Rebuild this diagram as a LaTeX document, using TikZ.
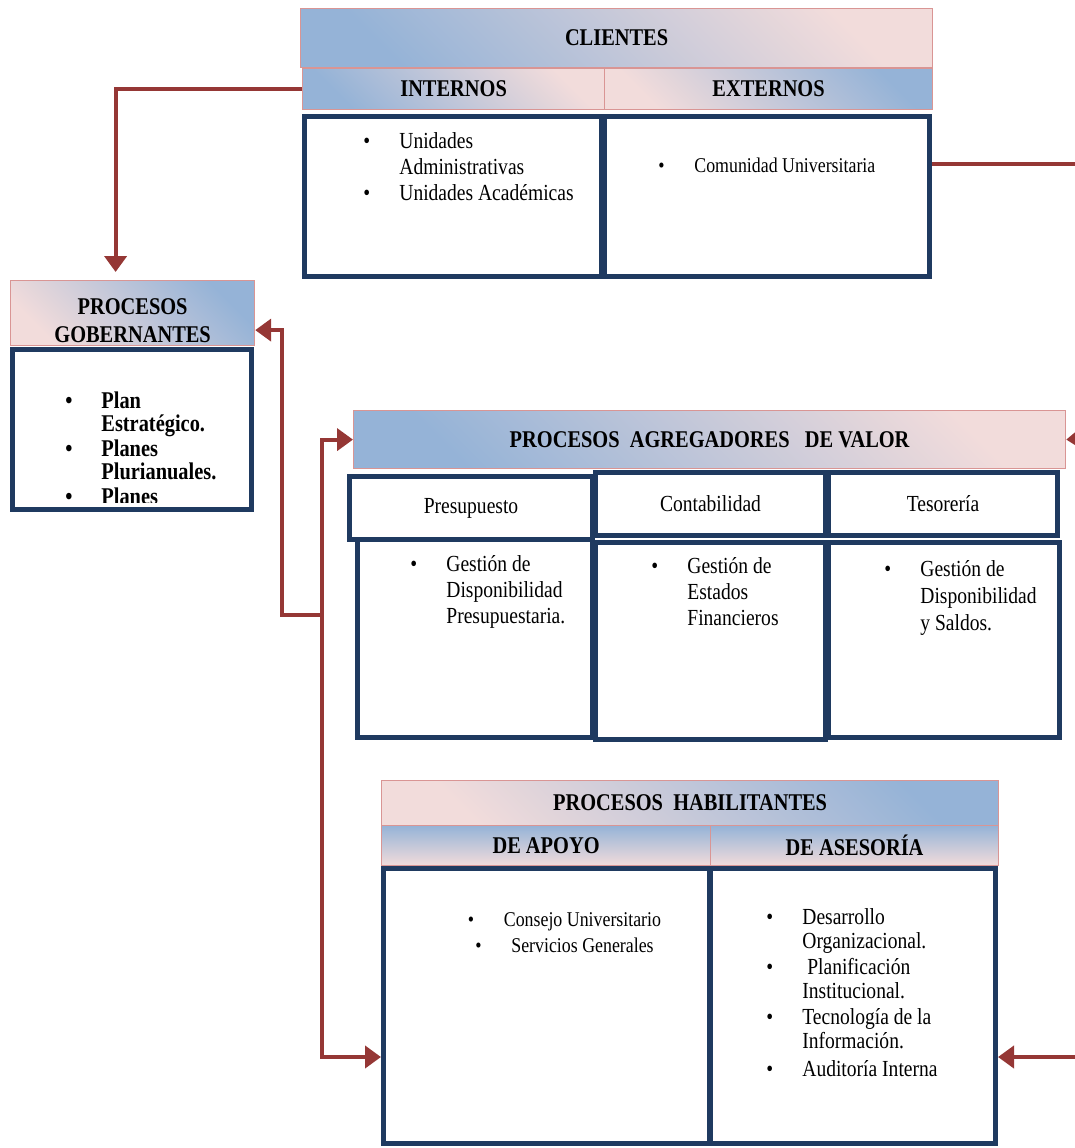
\documentclass[tikz,border=0pt]{standalone}
\usepackage{fontspec}
\setmainfont{Liberation Serif}[FakeStretch=0.85]
\usetikzlibrary{arrows.meta, positioning}
\definecolor{cnavy}{HTML}{1F3A60}
\definecolor{cred}{HTML}{953735}
\definecolor{cblue}{HTML}{95B3D7}
\definecolor{cpink}{HTML}{F2DCDB}
\definecolor{cedge}{HTML}{D99594}
\newcommand{\bitem}{\makebox[18pt][l]{\textbullet}}
\newcommand{\bpad}{\hspace*{18pt}}
\tikzset{
  hdr/.style={draw=cedge, line width=0.6pt, anchor=north west, inner sep=0pt, align=center, font=\fontsize{12}{14}\selectfont\bfseries},
  hdrA/.style={hdr, top color=cpink, bottom color=cblue, shading angle=-45},
  hdrB/.style={hdr, top color=cblue, bottom color=cpink, shading angle=-45},
  cell/.style={draw=cnavy, line width=2.5pt, anchor=north west, inner sep=0pt, align=center, font=\fontsize{11.5}{13}\selectfont},
  items/.style={anchor=north west, inner sep=0pt, align=left, font=\fontsize{11.5}{13}\selectfont},
  link/.style={draw=cred, line width=2pt},
  arrow/.style={link, -{Triangle[length=8pt, width=11pt]}},
}
\begin{document}
\begin{tikzpicture}[x=0.5pt, y=-0.5pt]
  \useasboundingbox (0,0) rectangle (1075,1148);
  % clientes
  \node[hdrA, minimum width=316pt, minimum height=29.5pt] (cl) at (300,8) {CLIENTES};
  \node[hdrA, minimum width=151pt, minimum height=20.5pt] (in) at (302,68) {INTERNOS};
  \node[hdrB, minimum width=164pt, minimum height=20.5pt] (ex) at (604,68) {EXTERNOS};
  \node[cell, minimum width=148.5pt, minimum height=80pt] (inb) at (302,114) {};
  \node[cell, minimum width=162.5pt, minimum height=80pt] (exb) at (602,114) {};
  \node[items, below right=9pt and 30.5pt of inb.north west] (inl) {\bitem Unidades\\ \bpad Administrativas\\ \bitem Unidades Académicas};
  \node[items, font=\fontsize{10.5}{12}\selectfont, below right=22pt and 28pt of exb.north west] (exl) {\bitem Comunidad Universitaria};
  % gobernantes
  \node[hdrB, minimum width=122pt, minimum height=32.5pt] (gh) at (10,280) {};
  \node[font=\fontsize{12}{14}\selectfont\bfseries, align=center, inner sep=0pt] (ght) at ([yshift=-4pt]gh.center) {PROCESOS\\GOBERNANTES};
  \node[cell, minimum width=119.5pt, minimum height=80pt] (gb) at (10,347) {};
  \begin{scope}
    \clip ([shift={(1.25pt,-1.25pt)}]gb.north west) rectangle ([yshift=5pt]gb.south east);
    \node[items, font=\fontsize{12}{11.5}\selectfont\bfseries, below right=22pt and 27.5pt of gb.north west] (gbl)
      {\bitem Plan\\ \bpad Estratégico.\\[1pt] \bitem Planes\\ \bpad Plurianuales.\\[1pt] \bitem Planes};
  \end{scope}
  % agregadores de valor
  \node[hdrA, minimum width=356pt, minimum height=29pt] (ah) at (353,410) {PROCESOS~ AGREGADORES~~ DE VALOR};
  \node[cell, minimum width=121.5pt, minimum height=31.5pt] (pr) at (347,474) {Presupuesto};
  \node[cell, minimum width=115pt, minimum height=31.5pt] (co) at (593,470) {Contabilidad};
  \node[cell, minimum width=114.5pt, minimum height=31.5pt] (te) at (826,470) {Tesorería};
  \node[cell, minimum width=117.5pt, minimum height=99pt] (pb) at (355,537) {};
  \node[cell, minimum width=115pt, minimum height=98.5pt] (cb) at (593,540) {};
  \node[cell, minimum width=115.5pt, minimum height=97.5pt] (tb) at (826,540) {};
  \node[items, below right=9pt and 27.5pt of pb.north west] (pbl) {\bitem Gestión de\\ \bpad Disponibilidad\\ \bpad Presupuestaria.};
  \node[items, below right=8.5pt and 29pt of cb.north west] (cbl) {\bitem Gestión de\\ \bpad Estados\\ \bpad Financieros};
  \node[items, font=\fontsize{11.5}{13.5}\selectfont, below right=10pt and 29pt of tb.north west] (tbl) {\bitem Gestión de\\ \bpad Disponibilidad\\ \bpad y Saldos.};
  % habilitantes
  \node[hdrB, minimum width=308.5pt, minimum height=22.5pt] (hh) at (381,780) {PROCESOS~ HABILITANTES};
  \node[hdrB, shading angle=0, minimum width=164.5pt, minimum height=20pt] (ap) at (381,825) {DE APOYO};
  \node[hdrB, shading angle=0, minimum width=144pt, minimum height=20pt] (as) at (710,825) {DE ASESORÍA};
  \node[cell, minimum width=163pt, minimum height=137.5pt] (apb) at (381,866) {};
  \node[cell, minimum width=142.5pt, minimum height=137.5pt] (asb) at (708,866) {};
  \node[items, anchor=north, align=center, font=\fontsize{10.5}{13}\selectfont, below=23pt of apb.north, xshift=9pt] (apl)
    {\bitem Consejo Universitario\\ \bitem Servicios Generales};
  \node[items, font=\fontsize{11.5}{12}\selectfont, below right=21pt and 29pt of asb.north west] (asl)
    {\bitem Desarrollo\\ \bpad Organizacional.\\[1pt] \bitem\ Planificación\\ \bpad Institucional.\\[1pt]
     \bitem Tecnología de la\\ \bpad Información.\\[2pt] \bitem Auditoría Interna};
  % connectors
  \coordinate (r1) at (1075,164);
  \coordinate (r2) at (1075,439);
  \coordinate (r3) at (1075,1057);
  \coordinate (j1) at (322,615);
  \coordinate (j2) at (282,615);
  \draw[arrow, shorten >=4pt] (in.west) -| ([xshift=-8.5pt]gh.north);
  \draw[link] (exb.east |- r1) -- (r1);
  \draw[arrow] (r2) -- (ah.east);
  \draw[arrow] (r3) -- (r3 -| asb.east);
  \draw[arrow] (j1) |- (ah.west);
  \draw[arrow] (j1) |- (apb.west |- r3);
  \draw[arrow] (j1) -- (j2) |- ([yshift=-8.5pt]gh.east);
\end{tikzpicture}
\end{document}
